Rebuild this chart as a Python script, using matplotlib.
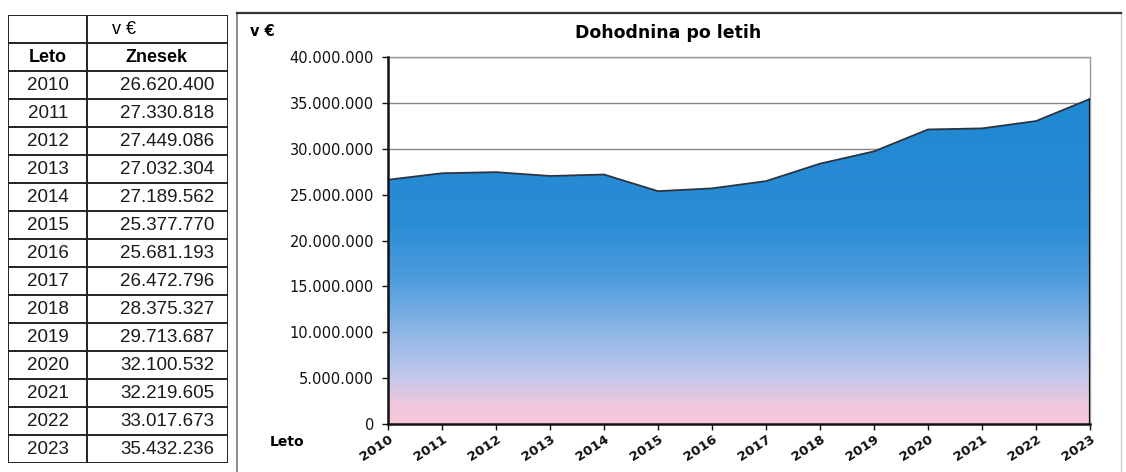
import numpy as np
import matplotlib.pyplot as plt
from matplotlib.colors import LinearSegmentedColormap
from matplotlib.patches import Polygon
from matplotlib.ticker import FuncFormatter

# podatki
leta = [2010, 2011, 2012, 2013, 2014, 2015, 2016, 2017, 2018, 2019, 2020, 2021, 2022, 2023]
znesek = [26620400, 27330818, 27449086, 27032304, 27189562, 25377770, 25681193,
          26472796, 28375327, 29713687, 32100532, 32219605, 33017673, 35432236]
y_ticks = [0, 5000000, 10000000, 15000000, 20000000, 25000000, 30000000, 35000000, 40000000]


def fmt_num(v):
    return f'{int(v):,}'.replace(',', '.')


W, H = 1126, 472
fig = plt.figure(figsize=(W / 100, H / 100), dpi=100)
fig.patch.set_facecolor('white')

# ---- tabela na levi ----
tab = fig.add_axes([8 / W, 1 - 463 / H, 220 / W, 448 / H])
tab.set_xlim(0, 220)
tab.set_ylim(448, 0)
tab.axis('off')
row_h = 28
n_rows = len(leta) + 2
for i in range(n_rows + 1):
    tab.plot([0, 220], [i * row_h, i * row_h], color='#222222', lw=1.4)
for xv in [0, 79, 220]:
    tab.plot([xv, xv], [0, n_rows * row_h], color='#222222', lw=1.4)
tf = ['Liberation Sans', 'DejaVu Sans']
tab.text(104, row_h * 0.5, 'v €', ha='left', va='center', fontsize=13, family=tf)
tab.text(40, row_h * 1.5, 'Leto', ha='center', va='center', fontsize=13, fontweight='bold', family=tf)
tab.text(149, row_h * 1.5, 'Znesek', ha='center', va='center', fontsize=13, fontweight='bold', family=tf)
for i, (l, z) in enumerate(zip(leta, znesek)):
    yc = row_h * (i + 2.5)
    tab.text(40, yc, str(l), ha='center', va='center', fontsize=13.5, family=tf, color='#1a1a1a')
    tab.text(206, yc, fmt_num(z), ha='right', va='center', fontsize=13.5, family=tf, color='#1a1a1a')

# ---- okvir grafa ----
frame = fig.add_axes([0, 0, 1, 1])
frame.set_xlim(0, W)
frame.set_ylim(H, 0)
frame.axis('off')
frame.plot([237, 237], [13, H], color='#777777', lw=1.2)
frame.plot([1121, 1121], [13, H], color='#cccccc', lw=1.0)
frame.plot([237, 1121], [13, 13], color='#333333', lw=1.6)

# ---- graf ----
ax = fig.add_axes([388 / W, 1 - 424 / H, 702 / W, 367 / H])
ax.set_xlim(leta[0], leta[-1])
ax.set_ylim(0, 40000000)

cmap = LinearSegmentedColormap.from_list('grad', [
    (0.0, '#f7c8da'), (0.05, '#f0c6dc'), (0.12, '#c6c8ea'), (0.25, '#8db6e6'),
    (0.40, '#4b9cdc'), (0.55, '#2a8cd5'), (1.0, '#1c86d1')])
grad = np.linspace(0, 1, 256).reshape(-1, 1)
img = ax.imshow(grad, cmap=cmap, origin='lower', aspect='auto',
                extent=[leta[0], leta[-1], 0, 40000000], zorder=2)
verts = [(leta[0], 0)] + list(zip(leta, znesek)) + [(leta[-1], 0)]
poly = Polygon(verts, closed=True, facecolor='none', edgecolor='none', transform=ax.transData)
ax.add_patch(poly)
img.set_clip_path(poly)
ax.plot(leta, znesek, color='#2b3440', lw=1.3, zorder=3)
ax.plot([leta[-1], leta[-1]], [0, znesek[-1]], color='#111111', lw=1.6, zorder=3)

ax.set_yticks(y_ticks)
ax.yaxis.set_major_formatter(FuncFormatter(lambda v, p: fmt_num(v)))
ax.set_xticks(leta)
ax.grid(axis='y', color='#888888', lw=1.0, zorder=1)
ax.set_axisbelow(True)
for s in ['top', 'right']:
    ax.spines[s].set_color('#999999')
    ax.spines[s].set_linewidth(1.0)
for s in ['left', 'bottom']:
    ax.spines[s].set_color('#111111')
    ax.spines[s].set_linewidth(1.8)
    ax.spines[s].set_zorder(4)
ax.tick_params(axis='y', length=4, width=1, pad=6, labelsize=10.5, colors='#111111')
ax.tick_params(axis='x', length=4, width=1, pad=2, labelsize=9.5, colors='#111111')
for t in ax.get_xticklabels():
    t.set_rotation(33)
    t.set_ha('right')
    t.set_va('top')
    t.set_rotation_mode('anchor')
    t.set_fontweight('bold')

fig.text(250 / W, 1 - 32 / H, 'v €', ha='left', va='center', fontsize=10.5, fontweight='bold')
fig.text(668 / W, 1 - 33 / H, 'Dohodnina po letih', ha='center', va='center', fontsize=12.5, fontweight='bold')
fig.text(270 / W, 1 - 442 / H, 'Leto', ha='left', va='center', fontsize=10, fontweight='bold')

fig.savefig('out.png', dpi=100, facecolor='white')
